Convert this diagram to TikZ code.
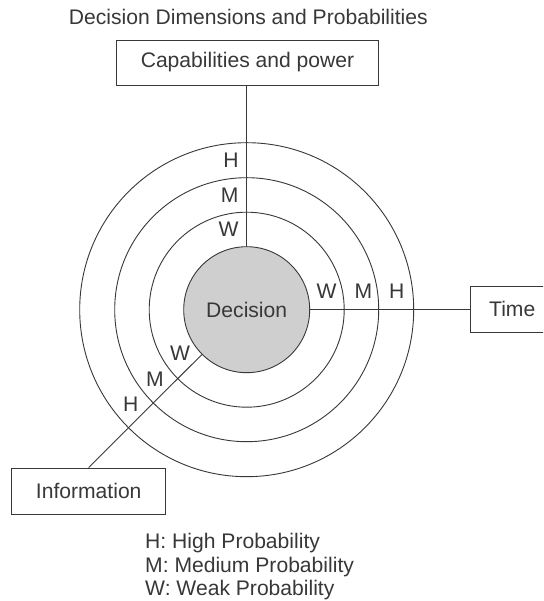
\documentclass[tikz,border=0pt]{standalone}
\usepackage{fontspec}
\setmainfont{Liberation Sans}
\usetikzlibrary{calc}
\definecolor{ink}{HTML}{383838}
\definecolor{fillg}{HTML}{CFCFCF}
\begin{document}
\begin{tikzpicture}[x=1pt,y=1pt,
  every node/.style={font=\fontsize{21.1}{24}\selectfont, text=ink},
  line/.style={draw=ink, line width=0.9pt},
  box/.style={draw=ink, line width=0.9pt, rectangle, inner sep=0pt, minimum height=46pt},
  lbl/.style={inner sep=0pt}]
\useasboundingbox (0,0) rectangle (543,601);
\clip (0,0) rectangle (543,601);
\fill[white] (0,0) rectangle (543,601);
\coordinate (C) at (246.7,291.3);
% rings
\draw[line] (C) circle[radius=167];
\draw[line] (C) circle[radius=132];
\draw[line] (C) circle[radius=97.5];
% decision
\node[circle, minimum size=126pt, inner sep=0pt, fill=fillg, draw=ink, line width=0.9pt] (dec) at (C) {Decision};
% boxes
\node[box, minimum width=261.6pt, minimum height=45pt] (cap) at (247.5,538.5) {Capabilities and power};
\node[box, minimum width=83pt] (time) at (512.2,292) {Time};
\node[box, minimum width=154pt] (info) at (88.7,110) {Information};
% connectors
\draw[line] (dec.north) -- (dec.north |- cap.south);
\draw[line] (dec.east) -- (dec.east -| time.west);
\draw[line] (dec.south west) -- (info.north);
% labels on vertical axis
\node[lbl, anchor=east] at ($(C)+(-8,149.5)$) {H};
\node[lbl, anchor=east] at ($(C)+(-8,114.5)$) {M};
\node[lbl, anchor=east] at ($(C)+(-8,80)$) {W};
% labels on horizontal axis
\node[lbl] at ($(C)+(80,18)$) {W};
\node[lbl] at ($(C)+(116.6,18)$) {M};
\node[lbl] at ($(C)+(150,18)$) {H};
% labels on diagonal axis
\node[lbl] at ($(C)+(-66.7,-43.6)$) {W};
\node[lbl] at ($(C)+(-91.7,-69.6)$) {M};
\node[lbl] at ($(C)+(-116,-94.3)$) {H};
% title
\node[anchor=base] (title) at (248.3,576) {Decision Dimensions and Probabilities};
% legend
\node[anchor=base west] (lh) at (141.7,52.7) {H: High Probability};
\node[anchor=base west] (lm) at (141.7,28.3) {M: Medium Probability};
\node[anchor=base west] (lw) at (141.7,5.3) {W: Weak Probability};
\end{tikzpicture}
\end{document}
